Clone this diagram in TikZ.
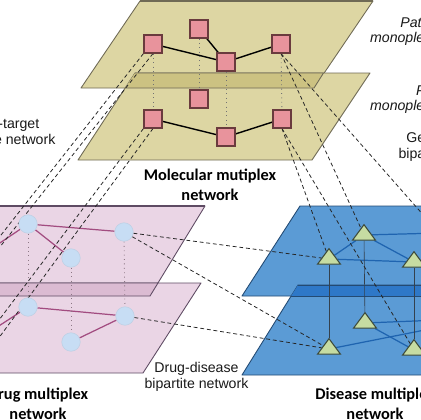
\documentclass[tikz,border=0pt]{standalone}
\usepackage{fontspec}
\setmainfont{Liberation Sans}
\newfontfamily\calfont{Carlito}
\usetikzlibrary{shapes.geometric}
\pgfdeclarelayer{planes}
\pgfdeclarelayer{links}
\pgfsetlayers{planes,links,main}
\definecolor{molfill}{HTML}{DDD6A3}
\definecolor{molband}{HTML}{CCC282}
\definecolor{moledge}{HTML}{6F6A55}
\definecolor{drugfill}{HTML}{EAD5E5}
\definecolor{drugband}{HTML}{DBBBD2}
\definecolor{drugedge}{HTML}{5E4B63}
\definecolor{disfill}{HTML}{5B9BD5}
\definecolor{disband}{HTML}{2E78C8}
\definecolor{disedge}{HTML}{234A73}
\definecolor{sqfill}{HTML}{E8939C}
\definecolor{sqedge}{HTML}{6A3B3E}
\definecolor{cifill}{HTML}{C7DDF4}
\definecolor{trfill}{HTML}{C6DCA2}
\definecolor{tredge}{HTML}{3D4A3A}
\definecolor{druglink}{HTML}{A24C80}
\definecolor{dislink}{HTML}{1F64B0}
\definecolor{disvertc}{HTML}{34414E}
\begin{document}
\begin{tikzpicture}[x=0.02cm,y=-0.02cm,
  molplane/.style={fill=molfill,draw=moledge,line width=0.5pt,line join=round},
  drugplane/.style={fill=drugfill,draw=drugedge,line width=0.5pt,line join=round},
  displane/.style={fill=disfill,draw=disedge,line width=0.5pt,line join=round},
  sq/.style={rectangle,draw=sqedge,fill=sqfill,line width=0.6pt,minimum size=0.36cm,inner sep=0pt},
  ci/.style={circle,fill=cifill,draw=cifill!85!gray,line width=0.3pt,minimum size=0.37cm,inner sep=0pt},
  tri/.style={regular polygon,regular polygon sides=3,draw=tredge,fill=trfill,line width=0.6pt,minimum size=0.53cm,inner sep=0pt,transform shape,yscale=0.78},
  mollink/.style={black,line width=0.8pt},
  druglk/.style={druglink,line width=0.7pt},
  dislk/.style={dislink,line width=0.7pt},
  molvert/.style={black!55,dotted,line width=0.5pt},
  drugvert/.style={druglink!40!black!60,dotted,line width=0.5pt},
  disvert/.style={disvertc,line width=0.35pt},
  inter/.style={black!85,dash pattern=on 2.2pt off 1.6pt,line width=0.45pt},
  lab/.style={align=center,inner sep=0pt,text=black!90,font=\fontsize{8.05}{8.8}\selectfont},
  itlab/.style={lab,font=\fontsize{8.05}{8.8}\selectfont\itshape},
  boldlab/.style={align=center,inner sep=0pt,text=black,font=\calfont\bfseries\fontsize{9.3}{11.3}\selectfont}]
\useasboundingbox (0,0) rectangle (420,420);

% ---------- planes ----------
\begin{pgfonlayer}{planes}
\path[molplane] (140,1) -- (373,1) -- (314,88) -- (81,88) -- cycle;
\path[molplane] (135,73) -- (370,73) -- (312,160) -- (78,160) -- cycle;
\fill[molband] (135,73) -- (323.5,73) -- (314,88) -- (125.2,88) -- cycle;
\draw[moledge,line width=0.5pt] (135,73) -- (323.5,73) (125.2,88) -- (314,88) -- (323.5,73);
\draw[moledge,line width=1.2pt] (140,0.6) -- (373,0.6);

\path[drugplane] (-150,206) -- (205,206) -- (150,296) -- (-150,296) -- cycle;
\path[drugplane] (-150,283) -- (201,283) -- (143,373) -- (-150,373) -- cycle;
\fill[drugband] (-150,283) -- (158,283) -- (150,296) -- (-150,296) -- cycle;
\draw[drugedge,line width=0.5pt] (-150,283) -- (158,283) (-150,296) -- (150,296) -- (158,283);
\draw[drugedge,line width=0.9pt] (-150,206) -- (205,206);

\path[displane] (300,206) -- (520,206) -- (520,296) -- (242,296) -- cycle;
\path[displane] (298,285) -- (520,285) -- (520,375) -- (242,375) -- cycle;
\fill[disband] (298,285) -- (520,285) -- (520,296) -- (291.2,296) -- cycle;
\draw[disedge,line width=0.5pt] (298,285) -- (520,285) (291.2,296) -- (520,296);
\end{pgfonlayer}

% ---------- molecular nodes ----------
\node[sq] (S1) at (153,44) {};
\node[sq] (S2) at (199,29) {};
\node[sq] (S3) at (226,62) {};
\node[sq] (S4) at (281,44) {};
\node[sq] (S5) at (199,99) {};
\node[sq] (S6) at (153,119) {};
\node[sq] (S7) at (226,137) {};
\node[sq] (S8) at (282,119) {};

% ---------- drug nodes ----------
\node[ci] (D1) at (28,224) {};
\node[ci] (D2) at (124,232) {};
\node[ci] (D3) at (71,258) {};
\node[ci] (D4) at (28,307) {};
\node[ci] (D5) at (125,316) {};
\node[ci] (D6) at (71,342) {};

% ---------- disease nodes ----------
\node[tri] (T1) at (329,259) {};
\node[tri] (T2) at (364,235) {};
\node[tri] (T3) at (414,262) {};
\node[tri] (T4) at (365,323) {};
\node[tri] (T5) at (329,349) {};
\node[tri] (T6) at (414,350) {};

% off-frame ends
\coordinate (dL1) at (-12,251);
\coordinate (dL2) at (-12,333);
\coordinate (eR1) at (440,233);
\coordinate (eR2) at (440,320);
\coordinate (eR3) at (440,327);
\coordinate (m1) at (-152,430);
\coordinate (m2) at (-145,430);
\coordinate (m3) at (-84,430);
\coordinate (m4) at (-69,430);
\coordinate (m5) at (463,260);

% ---------- links ----------
\begin{pgfonlayer}{links}
\draw[mollink] (S1) -- (S3);
\draw[mollink] (S2) -- (S3);
\draw[mollink] (S3) -- (S4);
\draw[mollink] (S6) -- (S7);
\draw[mollink] (S7) -- (S8);
\draw[molvert] (S1) -- (S6);
\draw[molvert] (S2) -- (S5);
\draw[molvert] (S3) -- (S7);
\draw[molvert] (S4) -- (S8);

\draw[druglk] (D1) -- (D2);
\draw[druglk] (D1) -- (D3);
\draw[druglk] (D1) -- (dL1);
\draw[druglk] (D4) -- (D5);
\draw[druglk] (D6) -- (D5);
\draw[druglk] (D4) -- (dL2);
\draw[drugvert] (D1) -- (D4);
\draw[drugvert] (D2) -- (D5);
\draw[drugvert] (D3) -- (D6);

\draw[dislk] (T1) -- (T2);
\draw[dislk] (T1) -- (T3);
\draw[dislk] (T2) -- (T3);
\draw[dislk] (T2) -- (eR1);
\draw[dislk] (T4) -- (eR2);
\draw[dislk] (T4) -- (T6);
\draw[dislk] (T5) -- (eR3);
\draw[disvert] (T1) -- (T5);
\draw[disvert] (T2) -- (T4);
\draw[disvert] (T3) -- (T6);

\draw[inter] (S1.south west) -- (m1);
\draw[inter] (S1.south) -- (m2);
\draw[inter] (S6.south west) -- (m3);
\draw[inter] (S6.south) -- (m4);
\draw[inter] (S4.south) -- (T2);
\draw[inter] (S4.south) -- (m5);
\draw[inter] (S8.south) -- (T1);
\draw[inter] (S8.south) -- (T6);
\draw[inter] (D2) -- (T1);
\draw[inter] (D2) -- (T5);
\draw[inter] (D5) -- (T5);
\end{pgfonlayer}

% ---------- labels ----------
\node[boldlab] (Lmol) at (210,185) {Molecular mutiplex\\network};
\node[boldlab] (Ldrug) at (38,404) {Drug multiplex\\network};
\node[boldlab] (Ldis) at (375,404) {Disease multiplex\\network};
\node[lab] (Ldd) at (196.5,377) {Drug-disease\\bipartite network};
\node[lab] (Ldt) at (3.5,133) {Drug-target\\bipartite network};
\node[itlab] (Lpath) at (427.5,31.5) {Pathway\\monoplex network};
\node[itlab] (Lppi) at (427.5,99.5) {PPI\\monoplex network};
\node[lab] (Lgd) at (450.5,147) {Gene-disease\\bipartite network};
\end{tikzpicture}
\end{document}
